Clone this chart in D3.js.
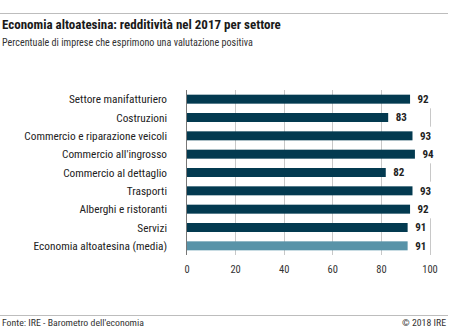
<!DOCTYPE html>
<html><head><meta charset="utf-8">
<script src="https://cdn.jsdelivr.net/npm/d3@7"></script>
<style>
body{margin:0;background:#fff;}
svg{display:block;}
text{font-family:"Liberation Sans Narrow","Roboto Condensed","Liberation Sans",sans-serif;}
</style></head>
<body>
<svg id="c" width="450" height="330"></svg>
<script>
const categories = ["Settore manifatturiero","Costruzioni","Commercio e riparazione veicoli","Commercio all'ingrosso","Commercio al dettaglio","Trasporti","Alberghi e ristoranti","Servizi","Economia altoatesina (media)"];
const values = [92,83,93,94,82,93,92,91,91];
const highlight = [false,false,false,false,false,false,false,false,true];
const ticks = [0,20,40,60,80,100];

const svg = d3.select("#c");
const x = d3.scaleLinear().domain([0,100]).range([186.5,429.5]);
const y = d3.scaleBand().domain(categories).range([90,255]).paddingInner(0.51).paddingOuter(0.255);

// rules
svg.append("line").attr("x1",0).attr("x2",448).attr("y1",13.5).attr("y2",13.5).attr("stroke","#bdbdbd").attr("stroke-width",1);
svg.append("line").attr("x1",0).attr("x2",448).attr("y1",315.5).attr("y2",315.5).attr("stroke","#bdbdbd").attr("stroke-width",1);

svg.append("text").attr("x",2).attr("y",29).attr("font-size",13).attr("font-weight","bold").attr("fill","#1a1a1a")
  .text("Economia altoatesina: redditività nel 2017 per settore");
svg.append("text").attr("x",2).attr("y",46).attr("font-size",10.1).attr("fill","#333")
  .text("Percentuale di imprese che esprimono una valutazione positiva");

// grid
svg.append("g").selectAll("line").data(ticks.slice(1)).join("line")
  .attr("x1",d=>Math.round(x(d))+0.5).attr("x2",d=>Math.round(x(d))+0.5)
  .attr("y1",90).attr("y2",255).attr("stroke","#c8c8c8").attr("stroke-width",1);

// axis tick labels
const xAxis = d3.axisBottom(x).tickValues(ticks).tickSize(0).tickPadding(0);
const gx = svg.append("g").attr("transform","translate(0,266)").call(xAxis);
gx.select(".domain").remove();
gx.selectAll("text").attr("font-size",10.5).attr("fill","#333").attr("dy","0.71em")
  .style("font-family",'"Liberation Sans Narrow","Roboto Condensed","Liberation Sans",sans-serif');

// bars
svg.append("g").selectAll("rect").data(categories).join("rect")
  .attr("x",x(0)).attr("y",d=>y(d)).attr("height",y.bandwidth())
  .attr("width",(d,i)=>x(values[i])-x(0))
  .attr("fill",(d,i)=>highlight[i]?"#5893a8":"#033a50");

// value labels with white background
const lg = svg.append("g").selectAll("g").data(categories).join("g")
  .attr("transform",(d,i)=>`translate(${x(values[i])+7.5},${y(d)+y.bandwidth()/2})`);
lg.append("rect").attr("x",-2).attr("y",-y.step()/2).attr("width",16).attr("height",y.step()).attr("fill","#fff");
lg.append("text").attr("font-size",11).attr("font-weight","bold").attr("fill","#222").attr("dy","0.36em")
  .text((d,i)=>values[i]);

// zero line
svg.append("line").attr("x1",x(0)).attr("x2",x(0)).attr("y1",90).attr("y2",255).attr("stroke","#777").attr("stroke-width",1);

// category labels
svg.append("g").selectAll("text").data(categories).join("text")
  .attr("x",167).attr("y",d=>y(d)+y.bandwidth()/2).attr("dy","0.36em")
  .attr("text-anchor","end").attr("font-size",11.3).attr("fill","#222").text(d=>d);

// footer
svg.append("text").attr("x",2).attr("y",325.5).attr("font-size",9.8).attr("fill","#333").text("Fonte: IRE - Barometro dell'economia");
svg.append("text").attr("x",446).attr("y",325.5).attr("text-anchor","end").attr("font-size",9.8).attr("fill","#333").text("© 2018 IRE");
</script>
</body></html>
